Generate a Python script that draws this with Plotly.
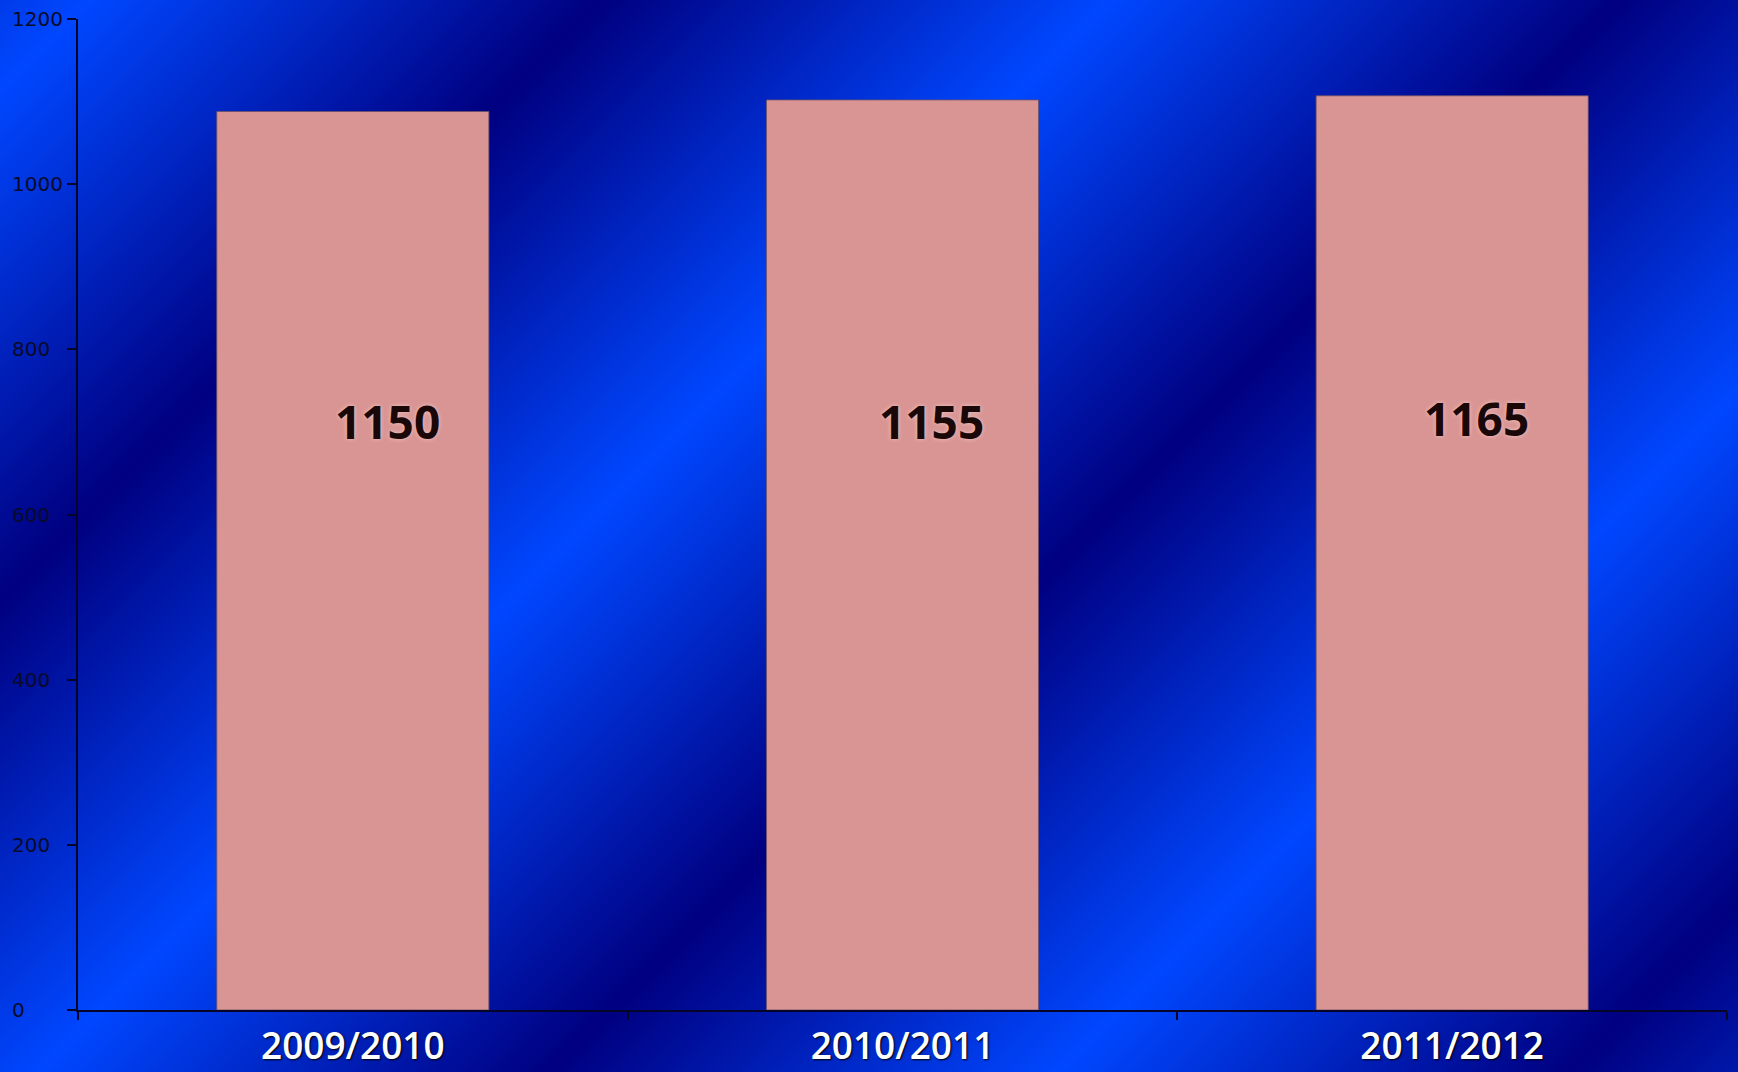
import base64
import plotly.graph_objects as go

# data
seasons = ["2009/2010", "2010/2011", "2011/2012"]
bar_values = [1088, 1102, 1107]
bar_labels = ["1150", "1155", "1165"]
y_ticks = [0, 200, 400, 600, 800, 1000, 1200]

W, H = 1738, 1072
ML, MR, MT, MB = 78, 11, 19, 62
PW, PH = W - ML - MR, H - MT - MB

# diagonal striped blue background as an svg gradient
svg = (
    f'<svg xmlns="http://www.w3.org/2000/svg" width="{W}" height="{H}">'
    '<defs><linearGradient id="g" gradientUnits="userSpaceOnUse" '
    'x1="45" y1="45" x2="300" y2="300" spreadMethod="reflect">'
    '<stop offset="0" stop-color="#0047ff"/>'
    '<stop offset="1" stop-color="#000080"/>'
    '</linearGradient></defs>'
    f'<rect width="{W}" height="{H}" fill="url(#g)"/></svg>'
)
bg_src = "data:image/svg+xml;base64," + base64.b64encode(svg.encode()).decode()

fig = go.Figure()
fig.add_trace(go.Bar(
    x=seasons, y=bar_values,
    marker=dict(color="#d99594", line=dict(color="rgba(110,80,100,0.8)", width=1)),
    width=0.495, showlegend=False, hoverinfo="skip",
))

# value labels sitting in the upper part of each bar
label_xshift = [35, 29, 24]
label_yshift = [0, 0, 3]
for s, t, dx, dy in zip(seasons, bar_labels, label_xshift, label_yshift):
    fig.add_annotation(
        x=s, xref="x", y=0.594, yref="y domain", text=t, showarrow=False,
        xshift=dx, yshift=dy,
        font=dict(family="Open Sans", size=46, weight="bold", color="#1a0808",
                  shadow="0 0 4px rgba(255,235,235,0.6)"),
    )

# left aligned y tick labels
for v in y_ticks:
    fig.add_annotation(
        x=0, xref="paper", y=v, yref="y", text=str(v), showarrow=False,
        xanchor="left", xshift=-68,
        font=dict(family="DejaVu Sans", size=20, color="#0a0a2a"),
    )

fig.update_layout(
    width=W, height=H,
    margin=dict(l=ML, r=MR, t=MT, b=MB),
    paper_bgcolor="#0022c0",
    plot_bgcolor="rgba(0,0,0,0)",
    images=[dict(
        source=bg_src, xref="paper", yref="paper",
        x=-ML / PW, y=1 + MT / PH, sizex=W / PW, sizey=H / PH,
        xanchor="left", yanchor="top", sizing="stretch", layer="below",
    )],
)
fig.update_xaxes(
    range=[-0.5, 2.5], showgrid=False, zeroline=False, automargin=False,
    showline=True, linecolor="#05052a", linewidth=2,
    ticks="outside", tickson="boundaries", ticklen=8, tickwidth=1.5, tickcolor="#05052a",
    tickfont=dict(family="Open Sans", size=37, weight=600, color="white",
                  shadow="1px 1px 2px #000000"),
    ticklabelstandoff=3,
)
fig.update_yaxes(
    range=[0, 1200], tickvals=y_ticks, showticklabels=False, automargin=False,
    showgrid=False, zeroline=False,
    showline=True, linecolor="#05052a", linewidth=2,
    ticks="outside", ticklen=9, tickwidth=1.5, tickcolor="#05052a",
)

fig.write_html(
    "out.html",
    config={"displayModeBar": False},
    post_script="document.body.style.margin='0';document.body.style.overflow='hidden';",
)
